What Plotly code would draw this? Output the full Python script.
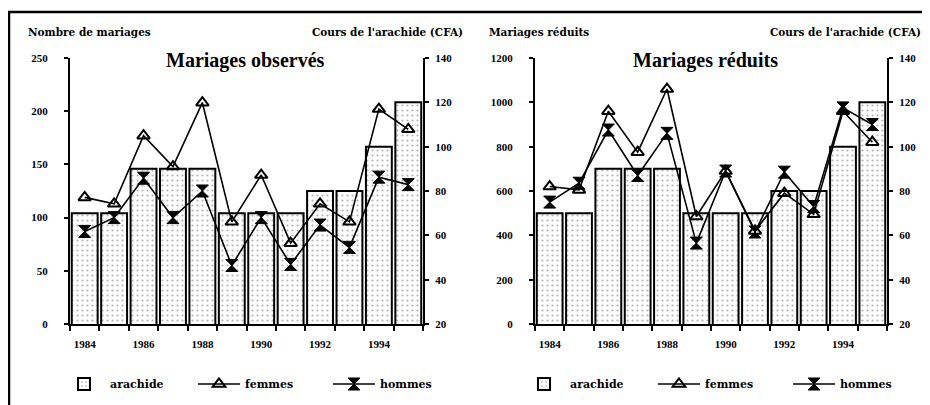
import plotly.graph_objects as go

years = [1984, 1985, 1986, 1987, 1988, 1989, 1990, 1991, 1992, 1993, 1994, 1995]
year_labels = [1984, 1986, 1988, 1990, 1992, 1994]

# cours de l'arachide (CFA), axe de droite
arachide = [70, 70, 90, 90, 90, 70, 70, 70, 80, 80, 100, 120]

# mariages observes
femmes_obs = [119, 113, 177, 148, 208, 96, 140, 76, 113, 96, 202, 183]
hommes_obs = [87, 100, 137, 100, 125, 55, 100, 56, 93, 72, 138, 131]

# mariages reduits
femmes_red = [620, 605, 960, 775, 1060, 485, 690, 420, 590, 495, 960, 820]
hommes_red = [550, 635, 875, 670, 860, 365, 690, 415, 685, 530, 975, 900]

# the page body has an 8px margin, so the figure is a bit smaller than the window
OFF = 8
W, H = 930-OFF, 405-OFF
FONT = "Liberation Serif"
WIDE = "DejaVu Serif"

def px(x):
	return (x-OFF)/W

def py(y):
	return (405-y)/H

def panel_traces(femmes, hommes, xa, ybar, yline, legend):
	traces = []
	traces.append(go.Bar(x=years, y=arachide, name="arachide", xaxis=xa, yaxis=ybar,
						 width=0.88, legend=legend,
						 marker=dict(color="white", line=dict(color="black", width=2),
									 pattern=dict(shape=".", fgcolor="#666", size=5, solidity=0.15))))
	traces.append(go.Scatter(x=years, y=femmes, name="femmes", xaxis=xa, yaxis=yline,
							 mode="lines+markers", legend=legend,
							 line=dict(color="black", width=1.6),
							 marker=dict(symbol="triangle-up-open", size=11, color="black",
										 line=dict(color="black", width=2))))
	traces.append(go.Scatter(x=years, y=hommes, name="hommes", xaxis=xa, yaxis=yline,
							 mode="lines+markers", legend=legend,
							 line=dict(color="black", width=1.6),
							 marker=dict(symbol="hourglass", size=12, color="black",
										 line=dict(color="black", width=1))))
	return traces

traces = panel_traces(femmes_obs, hommes_obs, "x", "y", "y2", "legend") + \
		 panel_traces(femmes_red, hommes_red, "x2", "y3", "y4", "legend2")

fig = go.Figure(data=traces)

tickfont = dict(family=FONT, size=11, color="black", weight="bold")
boundaries = [y-0.5 for y in years] + [years[-1]+0.5]

def xaxis(x0, x1, anchor):
	return dict(domain=[px(x0), px(x1)], anchor=anchor, range=[1983.5, 1995.5],
				tickvals=year_labels, ticks="", showgrid=False, zeroline=False,
				showline=True, linecolor="black", linewidth=2, automargin=False,
				tickfont=tickfont, ticklabelstandoff=9,
				minor=dict(tickvals=boundaries, ticks="outside", ticklen=5,
						   tickcolor="black", tickwidth=1.5, showgrid=False))

def yaxis(side, rng, dtick, anchor, overlaying=None, standoff=4):
	d = dict(anchor=anchor, side=side, range=rng, dtick=dtick, showgrid=False,
			 zeroline=False, showline=True, linecolor="black", linewidth=2,
			 ticks="outside", ticklen=4, tickcolor="black", tickwidth=1.5,
			 tickfont=tickfont, automargin=False, ticklabelstandoff=standoff)
	if overlaying:
		d["overlaying"] = overlaying
	else:
		d["domain"] = [py(324), py(58)]
	return d

legend_common = dict(orientation="h", yanchor="middle", y=py(384), xanchor="left",
					 font=dict(family=WIDE, size=11, color="black", weight="bold"),
					 itemwidth=42, entrywidth=78, entrywidthmode="pixels",
					 bgcolor="rgba(0,0,0,0)", tracegroupgap=0)

fig.update_layout(
	width=W, height=H, margin=dict(l=0, r=0, t=0, b=0),
	paper_bgcolor="white", plot_bgcolor="rgba(0,0,0,0)",
	template="simple_white", barmode="overlay",
	xaxis=xaxis(70, 423, "y"),
	yaxis=yaxis("right", [20, 140], 20, "x"),
	yaxis2=yaxis("left", [0, 250], 50, "x", overlaying="y", standoff=14),
	xaxis2=xaxis(535, 887, "y3"),
	yaxis3=yaxis("right", [20, 140], 20, "x2"),
	yaxis4=yaxis("left", [0, 1200], 200, "x2", overlaying="y3", standoff=14),
	legend=dict(x=px(58), **legend_common),
	legend2=dict(x=px(518), **legend_common),
	showlegend=True,
)

small = dict(family=WIDE, size=10.5, color="black", weight="bold")
big = dict(family=FONT, size=20, color="black", weight="bold")

def label(text, x, y, font, anchor):
	fig.add_annotation(text=text, x=px(x), y=py(y), xref="paper", yref="paper",
					   showarrow=False, xanchor=anchor, yanchor="middle", font=font)

label("Nombre de mariages", 26, 32, small, "left")
label("Cours de l'arachide (CFA)", 465, 32, small, "right")
label("Mariages observés", 245, 61, big, "center")
label("Mariages réduits", 487, 32, small, "left")
label("Cours de l'arachide (CFA)", 923, 32, small, "right")
label("Mariages réduits", 705, 61, big, "center")

# cadre
fig.add_shape(type="rect", xref="paper", yref="paper", x0=px(9), y0=py(410), x1=px(940), y1=py(12),
			  fillcolor="rgba(0,0,0,0)", opacity=1, line=dict(color="black", width=2.5))

fig.write_html("out.html")
